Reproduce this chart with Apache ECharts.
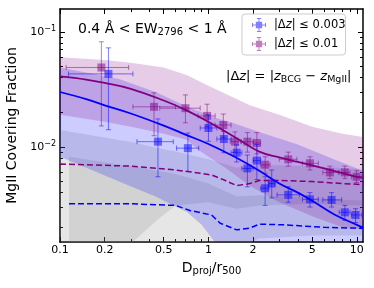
<!DOCTYPE html>
<html><head><meta charset="utf-8">
<script src="https://cdn.jsdelivr.net/npm/echarts@6/dist/echarts.min.js"></script>
<style>html,body{margin:0;padding:0;background:#fff}#c{width:374px;height:288px}</style>
</head><body><div id="c"></div>
<script>
// ---- tick values ----
const xTicksMajor = [0.1, 0.2, 0.5, 1, 2, 5, 10];
const xTicksMinor = [0.3, 0.4, 0.6, 0.7, 0.8, 0.9, 3, 4, 6, 7, 8, 9];
const yTicksMajor = [0.01, 0.1];
const yTicksMinor = [0.002, 0.003, 0.004, 0.005, 0.006, 0.007, 0.008, 0.009,
                     0.02, 0.03, 0.04, 0.05, 0.06, 0.07, 0.08, 0.09];

// ---- |dz| <= 0.01 (purple) measurements ----
const purpleX   = [0.19, 0.43, 0.70, 0.98, 1.26, 1.51, 1.83, 2.12, 2.41, 3.45, 4.83, 6.58, 8.3, 9.96];
const purpleY   = [0.049, 0.0223, 0.0217, 0.0186, 0.0155, 0.0111, 0.0111, 0.0108, 0.0070, 0.0078, 0.0072, 0.0060, 0.0060, 0.0055];
const purpleYlo = [0.0152, 0.0125, 0.0162, 0.0150, 0.0120, 0.0090, 0.0090, 0.0087, 0.0059, 0.0068, 0.0063, 0.0053, 0.0053, 0.0049];
const purpleYhi = [0.082, 0.0295, 0.0283, 0.0235, 0.0193, 0.0135, 0.0133, 0.0133, 0.0082, 0.0090, 0.0082, 0.0068, 0.0068, 0.0062];
const purpleXlo = [0.11, 0.31, 0.47, 0.85, 1.11, 1.40, 1.67, 2.00, 2.25, 3.0, 4.3, 5.9, 7.6, 9.2];
const purpleXhi = [0.29, 0.60, 0.88, 1.11, 1.42, 1.65, 2.00, 2.25, 2.60, 3.95, 5.5, 7.5, 9.0, 10.8];

// ---- |dz| <= 0.003 (blue) measurements ----
const blueX   = [0.212, 0.457, 0.727, 1.0, 1.27, 1.55, 1.83, 2.12, 2.41, 2.67, 3.45, 4.83, 6.76, 8.3, 9.8];
const blueY   = [0.0431, 0.0111, 0.00975, 0.0146, 0.0117, 0.0089, 0.0065, 0.0076, 0.00437, 0.0048, 0.00383, 0.0035, 0.00346, 0.0027, 0.00256];
const blueYlo = [0.0141, 0.0055, 0.0061, 0.0112, 0.0089, 0.0074, 0.0045, 0.0052, 0.0031, 0.0036, 0.0033, 0.0030, 0.0030, 0.0023, 0.0022];
const blueYhi = [0.0726, 0.0175, 0.0132, 0.0190, 0.0136, 0.0104, 0.0085, 0.0105, 0.0055, 0.0063, 0.0045, 0.0040, 0.0040, 0.0031, 0.0029];
const blueXlo = [0.114, 0.33, 0.61, 0.88, 1.14, 1.42, 1.68, 2.00, 2.25, 2.55, 2.9, 4.3, 5.9, 7.6, 9.2];
const blueXhi = [0.31, 0.58, 0.86, 1.14, 1.42, 1.68, 2.00, 2.25, 2.55, 2.80, 4.1, 5.5, 7.9, 9.0, 10.8];

// ---- model curves ----
const fitX       = [0.1, 0.15, 0.2, 0.3, 0.5, 0.7, 1.0, 1.5, 2.2, 3, 4, 5, 7, 10, 11];
const purpleFitY = [0.041, 0.0385, 0.036, 0.032, 0.0253, 0.021, 0.0165, 0.0122, 0.0091, 0.0081, 0.0074, 0.0069, 0.0062, 0.0055, 0.0054];
const blueFitY   = [0.030, 0.026, 0.023, 0.0195, 0.0153, 0.0128, 0.0106, 0.0082, 0.0062, 0.0048, 0.0040, 0.0034, 0.0026, 0.0021, 0.0020];

// ---- random expectation (dashed) ----
const purpleRandX = [0.1, 0.3, 0.6, 0.88, 1.05, 1.3, 1.55, 1.9, 2.2, 3, 5, 8, 11];
const purpleRandY = [0.0071, 0.0068, 0.0063, 0.0059, 0.0057, 0.0051, 0.0046, 0.0048, 0.0051, 0.0051, 0.0050, 0.0048, 0.0047];
const blueRandX   = [0.115, 0.3, 0.6, 0.75, 1.05, 1.2, 1.55, 1.9, 2.2, 3.2, 6, 11];
const blueRandY   = [0.0032, 0.0032, 0.0031, 0.0028, 0.00256, 0.00217, 0.0019, 0.00197, 0.00213, 0.0021, 0.0020, 0.00196];

// ---- shaded bands ----
const bandPX  = [0.1, 0.2, 0.3, 0.5, 0.72, 0.84, 1.0, 1.3, 1.9, 3, 5, 8, 11];
const bandPHi = [0.060, 0.057, 0.054, 0.049, 0.042, 0.038, 0.034, 0.029, 0.023, 0.019, 0.015, 0.013, 0.0122];
const bandPLo = [0.019, 0.0165, 0.015, 0.013, 0.0115, 0.0096, 0.0082, 0.0066, 0.0046, 0.0033, 0.0025, 0.0020, 0.0019];
const bandBX  = [0.1, 0.25, 0.44, 0.72, 0.9, 1.1, 1.5, 2.2, 4, 7, 11];
const bandBHi = [0.049, 0.039, 0.030, 0.0223, 0.020, 0.018, 0.016, 0.0135, 0.0105, 0.0078, 0.0062];
const bandBLo = [0.0082, 0.0050, 0.0037, 0.0027, 0.0021, 0.0015, 0.0011, 0.0009, 0.0008, 0.0008, 0.0008];
const bandGaX  = [0.1, 0.25, 0.31, 0.45, 0.6, 1.0, 1.55, 2.2, 5, 11];
const bandGaHi = [0.014, 0.0115, 0.011, 0.0098, 0.0091, 0.0078, 0.0066, 0.0070, 0.0068, 0.0064];
const bandGaLo = [0.0008, 0.0011, 0.0015, 0.0023, 0.0031, 0.0033, 0.0029, 0.0031, 0.0032, 0.0031];
const bandGbX  = [0.115, 0.3, 0.6, 1.0, 1.55, 2.2, 5, 11];
const bandGbHi = [0.0082, 0.0068, 0.0058, 0.0048, 0.0037, 0.0038, 0.0036, 0.0034];
const bandGbLo = [0.0008, 0.0008, 0.0009, 0.0010, 0.0013, 0.0016, 0.0017, 0.0017];

const PURPLE = '#800080', BLUE = '#0000ff';
const FONT = 'DejaVu Sans';

function bandSeries(xs, lo, hi, fill) {
  return {
    type: 'custom', clip: true, silent: true,
    data: xs.map((x, i) => [x, lo[i], hi[i]]),
    encode: { x: 0, y: [1, 2] },
    renderItem: function (params, api) {
      if (params.dataIndex !== 0) return null;
      const pts = [];
      for (let i = 0; i < xs.length; i++) pts.push(api.coord([xs[i], hi[i]]));
      for (let i = xs.length - 1; i >= 0; i--) pts.push(api.coord([xs[i], lo[i]]));
      return { type: 'polygon', shape: { points: pts }, style: { fill: fill } };
    }
  };
}

function errSeries(name, xs, ys, xlo, xhi, ylo, yhi, color) {
  return {
    name: name, type: 'custom', clip: true,
    itemStyle: { color: color },
    data: xs.map((x, i) => [x, ys[i]]),
    encode: { x: 0, y: 1 },
    renderItem: function (params, api) {
      const i = params.dataIndex;
      const c = api.coord([xs[i], ys[i]]);
      const l = api.coord([xlo[i], ys[i]]), r = api.coord([xhi[i], ys[i]]);
      const t = api.coord([xs[i], yhi[i]]), b = api.coord([xs[i], ylo[i]]);
      const cap = 2.5, s = 4;
      const st = { stroke: color, lineWidth: 1 };
      return { type: 'group', children: [
        { type: 'line', shape: { x1: l[0], y1: l[1], x2: r[0], y2: r[1] }, style: st },
        { type: 'line', shape: { x1: t[0], y1: t[1], x2: b[0], y2: b[1] }, style: st },
        { type: 'line', shape: { x1: l[0], y1: l[1] - cap, x2: l[0], y2: l[1] + cap }, style: st },
        { type: 'line', shape: { x1: r[0], y1: r[1] - cap, x2: r[0], y2: r[1] + cap }, style: st },
        { type: 'line', shape: { x1: t[0] - cap, y1: t[1], x2: t[0] + cap, y2: t[1] }, style: st },
        { type: 'line', shape: { x1: b[0] - cap, y1: b[1], x2: b[0] + cap, y2: b[1] }, style: st },
        { type: 'rect', shape: { x: c[0] - s, y: c[1] - s, width: 2 * s, height: 2 * s }, style: { fill: color } }
      ]};
    }
  };
}

function lineSeries(xs, ys, color, dashed) {
  return {
    type: 'line', silent: true, symbol: 'none', smooth: dashed ? false : 0.4,
    data: xs.map((x, i) => [x, ys[i]]),
    lineStyle: { color: color, width: dashed ? 1.5 : 1.8, type: dashed ? [6, 3] : 'solid' }
  };
}

const legendIcon = 'path://M0,9.3H20V10.7H0Z M0,7H1.4V13H0Z M18.6,7H20V13H18.6Z M9.3,0H10.7V20H9.3Z M7,0H13V1.4H7Z M7,18.6H13V20H7Z M5.5,5.5H14.5V14.5H5.5Z';

const XMIN = 0.1, XMAX = 11, YMIN = 0.00149, YMAX = 0.158;
const lineSt = { show: true, onZero: false, lineStyle: { color: '#000', width: 1.5 } };
function xAx(pos, ticks, len, withLabel, showLine) {
  const a = {
    type: 'log', min: XMIN, max: XMAX, position: pos,
    splitLine: { show: false },
    axisLine: showLine ? lineSt : { show: false },
    axisTick: { show: true, inside: true, length: len, customValues: ticks, lineStyle: { color: '#000', width: 1 } },
    axisLabel: { show: false }
  };
  if (withLabel) {
    a.axisLabel = { show: true, customValues: ticks, margin: 3, color: '#000', fontSize: 11, fontFamily: FONT,
      formatter: v => String(parseFloat(Number(v).toPrecision(6))) };
    a.name = '{a|D}{s|proj}{a|/r}{s|500}';
    a.nameLocation = 'middle';
    a.nameGap = 15;
    a.nameTextStyle = { color: '#000', fontFamily: FONT, fontSize: 14,
      rich: { a: { fontSize: 14, fontFamily: FONT, color: '#000' },
              s: { fontSize: 10, fontFamily: FONT, color: '#000', padding: [8, 0, 0, 0] } } };
  }
  return a;
}
function yAx(pos, ticks, len, withLabel, showLine) {
  const a = {
    type: 'log', min: YMIN, max: YMAX, position: pos,
    splitLine: { show: false },
    axisLine: showLine ? lineSt : { show: false },
    axisTick: { show: true, inside: true, length: len, customValues: ticks, lineStyle: { color: '#000', width: 1 } },
    axisLabel: { show: false }
  };
  if (withLabel) {
    a.axisLabel = { show: true, customValues: ticks, margin: 4, color: '#000', fontSize: 11, fontFamily: FONT,
      formatter: v => '{b|10}{s|\u2212' + (-Math.round(Math.log10(v))) + '}',
      rich: { b: { fontSize: 11, fontFamily: FONT, color: '#000' },
              s: { fontSize: 8, fontFamily: FONT, color: '#000', padding: [0, 0, 6, 0] } } };
    a.name = 'MgII Covering Fraction';
    a.nameLocation = 'middle';
    a.nameGap = 32;
    a.nameTextStyle = { color: '#000', fontFamily: FONT, fontSize: 14 };
  }
  return a;
}

const chart = echarts.init(document.getElementById('c'), null, { renderer: 'canvas' });
const series = [
  bandSeries(bandGaX, bandGaLo, bandGaHi, 'rgba(128,128,128,0.2)'),
  bandSeries(bandGbX, bandGbLo, bandGbHi, 'rgba(128,128,128,0.2)'),
  bandSeries(bandBX, bandBLo, bandBHi, 'rgba(0,0,255,0.2)'),
  bandSeries(bandPX, bandPLo, bandPHi, 'rgba(128,0,128,0.2)'),
  lineSeries(purpleRandX, purpleRandY, PURPLE, true),
  lineSeries(blueRandX, blueRandY, BLUE, true),
  lineSeries(fitX, purpleFitY, PURPLE, false),
  lineSeries(fitX, blueFitY, BLUE, false),
  errSeries('|\u0394z| \u2264 0.01', purpleX, purpleY, purpleXlo, purpleXhi, purpleYlo, purpleYhi, 'rgba(128,0,128,0.5)'),
  errSeries('|\u0394z| \u2264 0.003', blueX, blueY, blueXlo, blueXhi, blueYlo, blueYhi, 'rgba(0,0,255,0.5)')
];
chart.setOption({
  animation: false,
  backgroundColor: '#fff',
  grid: { left: 60, right: 11, top: 9, bottom: 46, containLabel: false, outerBoundsMode: 'none' },
  xAxis: [xAx('bottom', xTicksMajor, 5, true, true), xAx('bottom', xTicksMinor, 3, false, false),
          xAx('top', xTicksMajor, 5, false, true), xAx('top', xTicksMinor, 3, false, false)],
  yAxis: [yAx('left', yTicksMajor, 5, true, true), yAx('left', yTicksMinor, 3, false, false),
          yAx('right', yTicksMajor, 5, false, true), yAx('right', yTicksMinor, 3, false, false)],
  legend: {
    left: 242, top: 14, orient: 'vertical',
    data: [{ name: '|\u0394z| \u2264 0.003', icon: legendIcon }, { name: '|\u0394z| \u2264 0.01', icon: legendIcon }],
    itemWidth: 14, itemHeight: 14, itemGap: 5,
    padding: [4, 0, 4, 10],
    backgroundColor: 'rgba(255,255,255,0.85)', borderColor: '#cccccc', borderWidth: 1, borderRadius: 3,
    selectedMode: false,
    formatter: n => '{sp|}' + n.replace('z', '{i|z}'),
    textStyle: { fontSize: 11.5, fontFamily: FONT, color: '#000',
      rich: { i: { fontSize: 11.5, fontFamily: FONT, fontStyle: 'italic', color: '#000' },
              sp: { width: 3 } } }
  },
  graphic: [
    { type: 'text', left: 78, top: 22, z: 100,
      style: { text: '{a|0.4 \u00c5 < EW}{s|2796}{a| < 1 \u00c5}',
        rich: { a: { fontSize: 14, fontFamily: FONT, fill: '#000' },
                s: { fontSize: 10, fontFamily: FONT, fill: '#000', padding: [7, 0, 0, 0] } } } },
    { type: 'text', left: 226, top: 70, z: 100,
      style: { text: '{a||\u0394}{i|z}{a|| = |}{i|z}{s|BCG}{a| \u2212 }{i|z}{s|MgII}{a||}',
        rich: { a: { fontSize: 13, fontFamily: FONT, fill: '#000' },
                i: { fontSize: 13, fontFamily: FONT, fontStyle: 'italic', fill: '#000' },
                s: { fontSize: 9.5, fontFamily: FONT, fill: '#000', padding: [7, 0, 0, 0] } } } }
  ],
  series: series
});
</script></body></html>
